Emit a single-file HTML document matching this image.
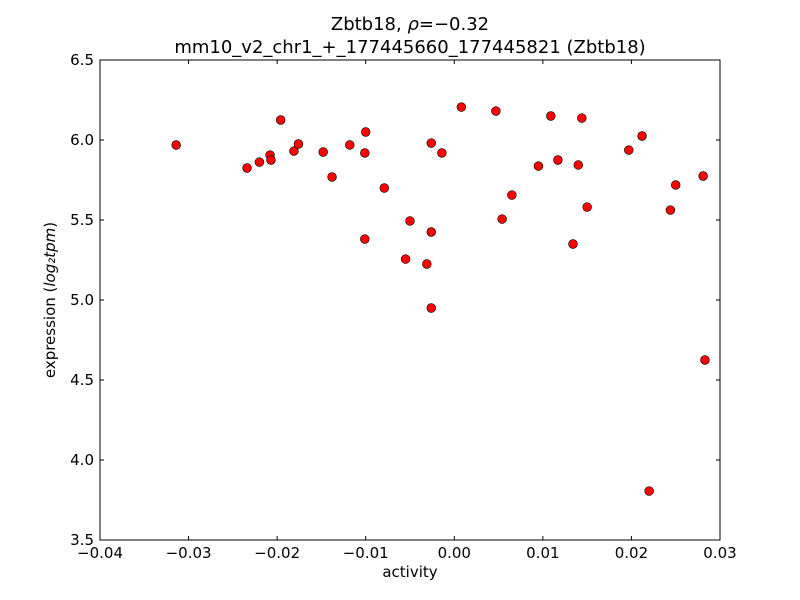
<!DOCTYPE html>
<html><head><meta charset="utf-8"><style>
body{margin:0;background:#fff;}
svg{display:block;font-family:"DejaVu Sans","Liberation Sans",sans-serif;}
</style></head><body>
<svg id="chart" width="800" height="600">
<rect width="800" height="600" fill="#fff"/>
<text x="410" y="30" font-size="18" text-anchor="middle">Zbtb18, <tspan font-style="italic">ρ</tspan>=−0.32</text>
<text x="410" y="53" font-size="18" text-anchor="middle">mm10_v2_chr1_+_177445660_177445821 (Zbtb18)</text>
<text x="410" y="577" font-size="15" text-anchor="middle">activity</text>
<text transform="translate(55,300) rotate(-90)" font-size="15" text-anchor="middle">expression (<tspan font-style="italic">log₂tpm</tspan>)</text>
<g id="ticks"></g>
<g id="points"></g>
<rect x="100" y="60" width="620" height="480" fill="none" stroke="#000" stroke-width="1"/>
</svg>
<script>
const xs=[-0.0314,-0.0234,-0.0220,-0.0208,-0.0207,-0.0196,-0.0181,-0.0176,-0.0148,-0.0138,-0.0118,-0.0100,-0.0101,-0.0101,-0.0079,-0.0050,-0.0055,-0.0031,-0.0026,-0.0026,-0.0026,-0.0014,0.0008,0.0047,0.0054,0.0065,0.0095,0.0109,0.0117,0.0134,0.0140,0.0144,0.0150,0.0197,0.0212,0.0220,0.0244,0.0250,0.0281,0.0283];
const ys=[5.969,5.825,5.862,5.906,5.875,6.125,5.931,5.975,5.925,5.769,5.969,6.050,5.919,5.381,5.700,5.494,5.256,5.225,5.981,5.425,4.950,5.919,6.206,6.181,5.506,5.656,5.837,6.150,5.875,5.350,5.844,6.137,5.581,5.937,6.025,3.806,5.562,5.719,5.775,4.625];
const xTicks=[-0.04,-0.03,-0.02,-0.01,0.00,0.01,0.02,0.03];
const xTickLabels=["−0.04","−0.03","−0.02","−0.01","0.00","0.01","0.02","0.03"];
const yTicks=[3.5,4.0,4.5,5.0,5.5,6.0,6.5];
const yTickLabels=["3.5","4.0","4.5","5.0","5.5","6.0","6.5"];
const NS="http://www.w3.org/2000/svg";
const X=v=>100+(v+0.04)/0.07*620;
const Y=v=>540-(v-3.5)/3*480;
const tg=document.getElementById('ticks');
function mk(t,a,p){const e=document.createElementNS(NS,t);for(const k in a)e.setAttribute(k,a[k]);p.appendChild(e);return e;}
xTicks.forEach((v,i)=>{const x=X(v);
 mk('line',{x1:x,y1:540,x2:x,y2:536,stroke:'#000'},tg);
 mk('line',{x1:x,y1:60,x2:x,y2:64,stroke:'#000'},tg);
 const t=mk('text',{x:x,y:558,'font-size':15,'text-anchor':'middle'},tg);t.textContent=xTickLabels[i];
 
 
});
yTicks.forEach((v,i)=>{const y=Y(v);
 mk('line',{x1:100,y1:y,x2:104,y2:y,stroke:'#000'},tg);
 mk('line',{x1:720,y1:y,x2:716,y2:y,stroke:'#000'},tg);
 const t=mk('text',{x:94,y:y+5,'font-size':15,'text-anchor':'end'},tg);t.textContent=yTickLabels[i];
 
 
});
const pg=document.getElementById('points');
xs.forEach((v,i)=>{const c=mk('circle',{cx:X(v),cy:Y(ys[i]),r:4.4,fill:'#ff0000',stroke:'#000','stroke-width':0.6},pg);
 
 
});
</script>
</body></html>
